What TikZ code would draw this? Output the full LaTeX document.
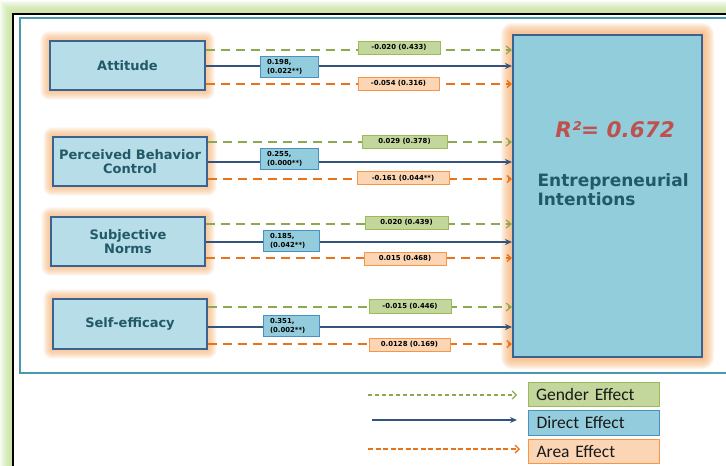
\documentclass[tikz,border=0pt]{standalone}
\usepackage{fontspec}
\setmainfont{DejaVu Sans}
\newfontfamily\legendfont{Carlito}
\usetikzlibrary{arrows.meta,calc,backgrounds}
\definecolor{leftfill}{HTML}{B7DEE8}
\definecolor{leftborder}{HTML}{3C6291}
\definecolor{eifill}{HTML}{92CDDC}
\definecolor{txt}{HTML}{215968}
\definecolor{gfill}{HTML}{C3D69B}
\definecolor{gdraw}{HTML}{9BBB59}
\definecolor{garrow}{HTML}{8BAA4F}
\definecolor{ofill}{HTML}{FCD5B5}
\definecolor{odraw}{HTML}{F79646}
\definecolor{oarrow}{HTML}{E8731A}
\definecolor{bfill}{HTML}{93CDDD}
\definecolor{bdraw}{HTML}{4A90C0}
\definecolor{barrow}{HTML}{34547F}
\definecolor{rtxt}{HTML}{C0504D}
\definecolor{glowc}{HTML}{F9B270}
\definecolor{greenglow}{HTML}{BFE08A}
\definecolor{tealline}{HTML}{4A98B0}
\tikzset{
  varbox/.style={draw=leftborder, line width=1.3pt, fill=leftfill, text=txt,
    font=\bfseries\fontsize{13}{14.5}\selectfont, align=center, inner sep=0pt,
    minimum width=154pt, minimum height=49pt},
  eibox/.style={draw=leftborder, line width=2pt, fill=eifill, inner sep=0pt,
    minimum width=189pt, minimum height=322pt},
  labbase/.style={line width=0.7pt, font=\bfseries\fontsize{6.9}{9}\selectfont,
    inner sep=0pt, minimum height=13pt},
  glab/.style={labbase, draw=gdraw, fill=gfill},
  olab/.style={labbase, draw=odraw, fill=ofill},
  blab/.style={labbase, draw=bdraw, fill=bfill, align=left, text width=44pt,
    inner xsep=7pt, minimum height=21pt},
  gline/.style={draw=garrow, line width=1.3pt, dash pattern=on 9pt off 6pt,
    -{Straight Barb[length=5pt,width=8pt,line width=1.2pt]}},
  oline/.style={draw=oarrow, line width=1.3pt, dash pattern=on 9pt off 6pt,
    -{Straight Barb[length=4pt,width=7pt,line width=1.4pt]}},
  bline/.style={draw=barrow, line width=1.3pt, -{Stealth[length=7pt,width=6pt]}},
  legbox/.style={line width=1pt, text width=115pt, inner xsep=8pt, inner ysep=0pt,
    minimum height=24.5pt, align=left, font=\legendfont\fontsize{17.5}{19}\selectfont,
    text=black!90},
}
\newcommand{\glowaround}[2]{%
  \foreach \i in {1,...,#2}{%
    \fill[glowc, opacity=0.11, rounded corners=\i pt]
      ([shift={(-\i pt,-\i pt)}]#1.south west) rectangle
      ([shift={(\i pt,\i pt)}]#1.north east);}}
\begin{document}
\begin{tikzpicture}[x=1pt,y=-1pt]
\useasboundingbox (0,0) rectangle (726,466);
\clip (0,0) rectangle (726,466);

% frame
\begin{pgfonlayer}{background}
  \fill[white] (0,0) rectangle (726,466);
  \foreach \i in {1,...,13}{
    \fill[greenglow, opacity=0.1] (13-\i,14-\i) rectangle (760,500);}
  \fill[white, draw=black, line width=2pt] (13,14) rectangle (760,500);
  \draw[tealline, line width=1.6pt] (760,18) -- (20,18) -- (20,373) -- (760,373);
\end{pgfonlayer}

% nodes
\node[varbox, minimum width=155pt] (att) at (127.5,65.5) {Attitude};
\node[varbox] (pbc) at (130,161.5) {Perceived Behavior\\Control};
\node[varbox] (sn)  at (128,241.5) {Subjective\\Norms};
\node[varbox, minimum height=50pt] (se)  at (130,324) {Self-efficacy};
\node[eibox] (ei) at (607.5,196) {};
\node[font=\bfseries\itshape\fontsize{21.5}{23}\selectfont, text=rtxt] (r2) at (615,130) {R²= 0.672};
\node[font=\bfseries\fontsize{17}{19.5}\selectfont, text=txt, align=left, anchor=west]
  (eit) at (534,189.5) {Entrepreneurial\\Intentions};

\begin{pgfonlayer}{background}
  \glowaround{att}{9}
  \glowaround{pbc}{9}
  \glowaround{sn}{9}
  \glowaround{se}{9}
  \glowaround{ei}{11}
\end{pgfonlayer}

% connectors
\draw[gline] (att.east |- 0,50) -- (ei.west |- 0,50);
\draw[bline] (att.east |- 0,66) -- (ei.west |- 0,66);
\draw[oline] (att.east |- 0,84) -- (ei.west |- 0,84);
\draw[gline] (pbc.east |- 0,142) -- (ei.west |- 0,142);
\draw[bline] (pbc.east |- 0,162) -- (ei.west |- 0,162);
\draw[oline] (pbc.east |- 0,179) -- (ei.west |- 0,179);
\draw[gline] (sn.east |- 0,224) -- (ei.west |- 0,224);
\draw[bline] (sn.east |- 0,242) -- (ei.west |- 0,242);
\draw[oline] (sn.east |- 0,258) -- (ei.west |- 0,258);
\draw[gline] (se.east |- 0,307) -- (ei.west |- 0,307);
\draw[bline] (se.east |- 0,327) -- (ei.west |- 0,327);
\draw[oline] (se.east |- 0,344) -- (ei.west |- 0,344);

% labels
\node[glab, minimum width=82pt] (l1g) at (399,47.5) {-0.020 (0.433)};
\node[blab] (l1b) at (289,66.5) {0.198,\\(0.022**)};
\node[olab, minimum width=81pt] (l1o) at (398.5,83.5) {-0.054 (0.316)};
\node[glab, minimum width=85pt] (l2g) at (404.5,141.5) {0.029 (0.378)};
\node[blab] (l2b) at (289,159) {0.255,\\(0.000**)};
\node[olab, minimum width=92pt] (l2o) at (403,178) {-0.161 (0.044**)};
\node[glab, minimum width=83pt] (l3g) at (406.5,222.5) {0.020 (0.439)};
\node[blab, text width=42pt] (l3b) at (291,240.5) {0.185,\\(0.042**)};
\node[olab, minimum width=82pt] (l3o) at (405,258.5) {0.015 (0.468)};
\node[glab, minimum width=82pt, minimum height=14pt] (l4g) at (410,306) {-0.015 (0.446)};
\node[blab, text width=42pt] (l4b) at (291,325.5) {0.351,\\(0.002**)};
\node[olab, minimum width=81pt] (l4o) at (409.5,344.5) {0.0128 (0.169)};

% legend
\node[legbox, draw=gdraw, fill=gfill] (lg) at (593.5,394.5) {Gender Effect};
\node[legbox, draw=bdraw, fill=bfill] (lb) at (594,423) {Direct Effect};
\node[legbox, draw=odraw, fill=ofill] (lo) at (594,451.5) {Area Effect};
\coordinate (lgs) at (368,395);
\coordinate (lge) at (517,395);
\coordinate (lbs) at (372,420);
\coordinate (lbe) at (517,420);
\coordinate (los) at (368,449);
\coordinate (loe) at (520,449);
\draw[draw=garrow, line width=1.3pt, dash pattern=on 4pt off 3pt,
  -{Straight Barb[length=4pt,width=8pt,line width=1.2pt]}] (lgs) -- (lge);
\draw[bline] (lbs) -- (lbe);
\draw[draw=oarrow, line width=1.3pt, dash pattern=on 5pt off 2.5pt,
  -{Straight Barb[length=4pt,width=8pt,line width=1.4pt]}] (los) -- (loe);
\end{tikzpicture}
\end{document}
